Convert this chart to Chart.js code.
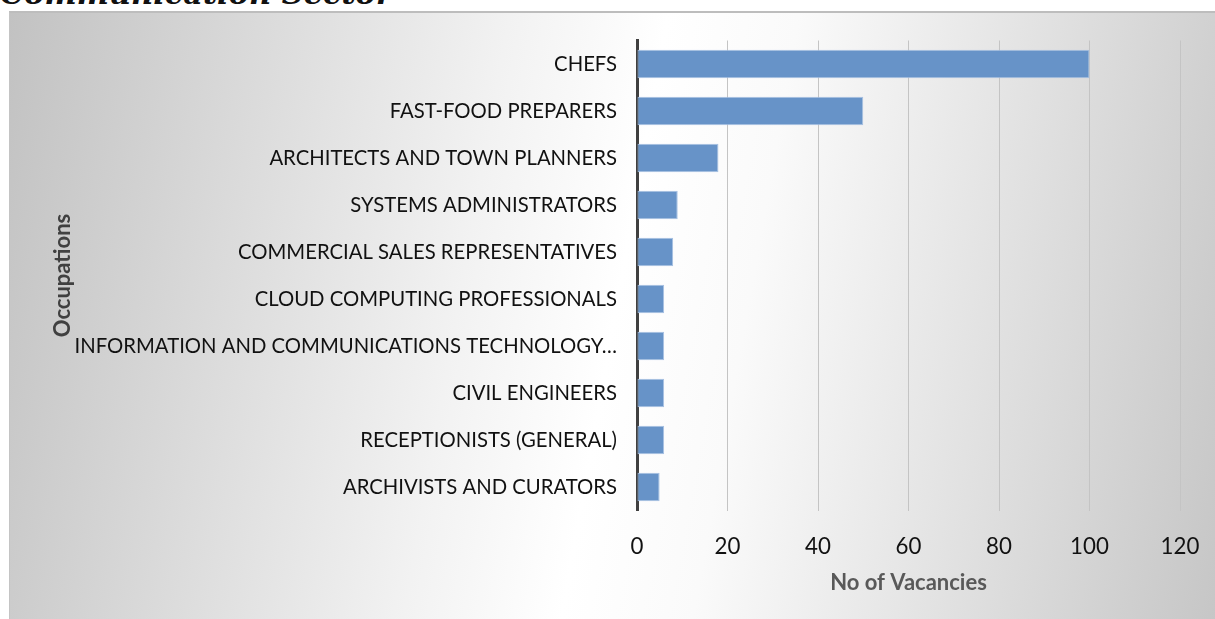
<!DOCTYPE html>
<html>
<head>
<meta charset="utf-8">
<script src="https://cdn.jsdelivr.net/npm/chart.js@4.4.1/dist/chart.umd.min.js"></script>
<style>
  html, body { margin: 0; padding: 0; background: #fff; overflow: hidden; }
  body { width: 1215px; height: 619px; position: relative; }
  #title {
    position: absolute; left: 0; top: -20px; margin: 0;
    font-family: 'DejaVu Serif', serif; font-weight: bold; font-style: italic;
    font-size: 30px; line-height: 30px; color: #111; white-space: nowrap;
  }
  #box {
    position: absolute; left: 9px; top: 11px; width: 1210px; height: 608px;
    border-top: 2px solid #bdbdbd; border-left: 1px solid #c4c4c4;
    box-sizing: border-box;
    background: linear-gradient(100deg, #c2c2c2 0%, #f2f2f2 38%, #ffffff 50%, #fafafa 60%, #c6c6c6 100%);
  }
  #wrap { position: absolute; left: 9px; top: 11px; width: 1206px; height: 608px; }
</style>
</head>
<body>
<div id="title">Communication Sector</div>
<div id="box"></div>
<div id="wrap"><canvas id="chart"></canvas></div>
<script>
let ocupaciones = [
    'CHEFS',
    'FAST-FOOD PREPARERS',
    'ARCHITECTS AND TOWN PLANNERS',
    'SYSTEMS ADMINISTRATORS',
    'COMMERCIAL SALES REPRESENTATIVES',
    'CLOUD COMPUTING PROFESSIONALS',
    'INFORMATION AND COMMUNICATIONS TECHNOLOGY…',
    'CIVIL ENGINEERS',
    'RECEPTIONISTS (GENERAL)',
    'ARCHIVISTS AND CURATORS'
];
let vacantes = [100, 50, 18, 9, 8, 6, 6, 6, 6, 5];
let ticksX = [0, 20, 40, 60, 80, 100, 120];

// font sizes picked from label widths in the picture
let familia = "Lato, 'Open Sans', sans-serif";
let medir = document.createElement('canvas').getContext('2d');
medir.font = '100px ' + familia;
let r1 = 100 * 386 / medir.measureText('COMMERCIAL SALES REPRESENTATIVES').width;
let r2 = 100 * 535 / medir.measureText('INFORMATION AND COMMUNICATIONS TECHNOLOGY…').width;
let tam = Math.round((r1 + r2) / 2 * 10) / 10;
medir.font = 'bold 100px ' + familia;
let tamEje = Math.round(100 * 157 / medir.measureText('No of Vacancies').width * 10) / 10;

let titulo = document.getElementById('title');
medir.font = "bold italic 100px 'DejaVu Serif'";
let tamT = 100 * 392 / medir.measureText('Communication Sector').width;
titulo.style.fontSize = tamT + 'px';
titulo.style.lineHeight = tamT + 'px';
titulo.style.top = (4 - tamT * 0.845) + 'px';

let ctx = document.getElementById('chart');

let miGrafica = new Chart(ctx, {
    type: 'bar',
    data: {
        labels: ocupaciones,
        datasets: [{
            label: 'No of Vacancies',
            data: vacantes,
            backgroundColor: '#6793c8',
            borderColor: '#a6c0e2',
            borderWidth: 1,
            borderSkipped: false,
            barPercentage: 0.61,
            categoryPercentage: 1
        }]
    },
    options: {
        indexAxis: 'y',
        responsive: true,
        maintainAspectRatio: false,
        animation: false,
        layout: { padding: { left: 39, top: 29.5, right: 35, bottom: 0 } },
        plugins: {
            legend: { display: false },
            tooltip: { enabled: false }
        },
        scales: {
            x: {
                min: 0,
                max: 120,
                afterBuildTicks: (eje) => { eje.ticks = ticksX.map(v => ({ value: v })); },
                afterFit: (eje) => {
                    eje.height = 108.5;
                    eje.paddingLeft = 0;
                    eje.paddingRight = 0;
                },
                grid: { color: '#c4c4c4', lineWidth: 1, drawTicks: false },
                border: { display: false },
                ticks: {
                    padding: 23,
                    color: '#111',
                    font: { family: familia, size: tam + 2 }
                },
                title: {
                    display: true,
                    text: 'No of Vacancies',
                    color: '#595959',
                    font: { family: familia, size: tamEje, weight: 'bold' },
                    padding: { top: 0, bottom: 23 }
                }
            },
            y: {
                afterFit: (eje) => {
                    eje.width = 589;
                    eje.paddingTop = 0;
                    eje.paddingBottom = 0;
                },
                grid: { display: false, drawTicks: false },
                border: { display: true, color: '#404040', width: 3 },
                ticks: {
                    padding: 20,
                    color: '#111',
                    font: { family: familia, size: tam }
                },
                title: {
                    display: true,
                    text: 'Occupations',
                    color: '#404040',
                    font: { family: familia, size: tamEje, weight: 'bold' },
                    padding: 2
                }
            }
        }
    }
});
</script>
</body>
</html>
